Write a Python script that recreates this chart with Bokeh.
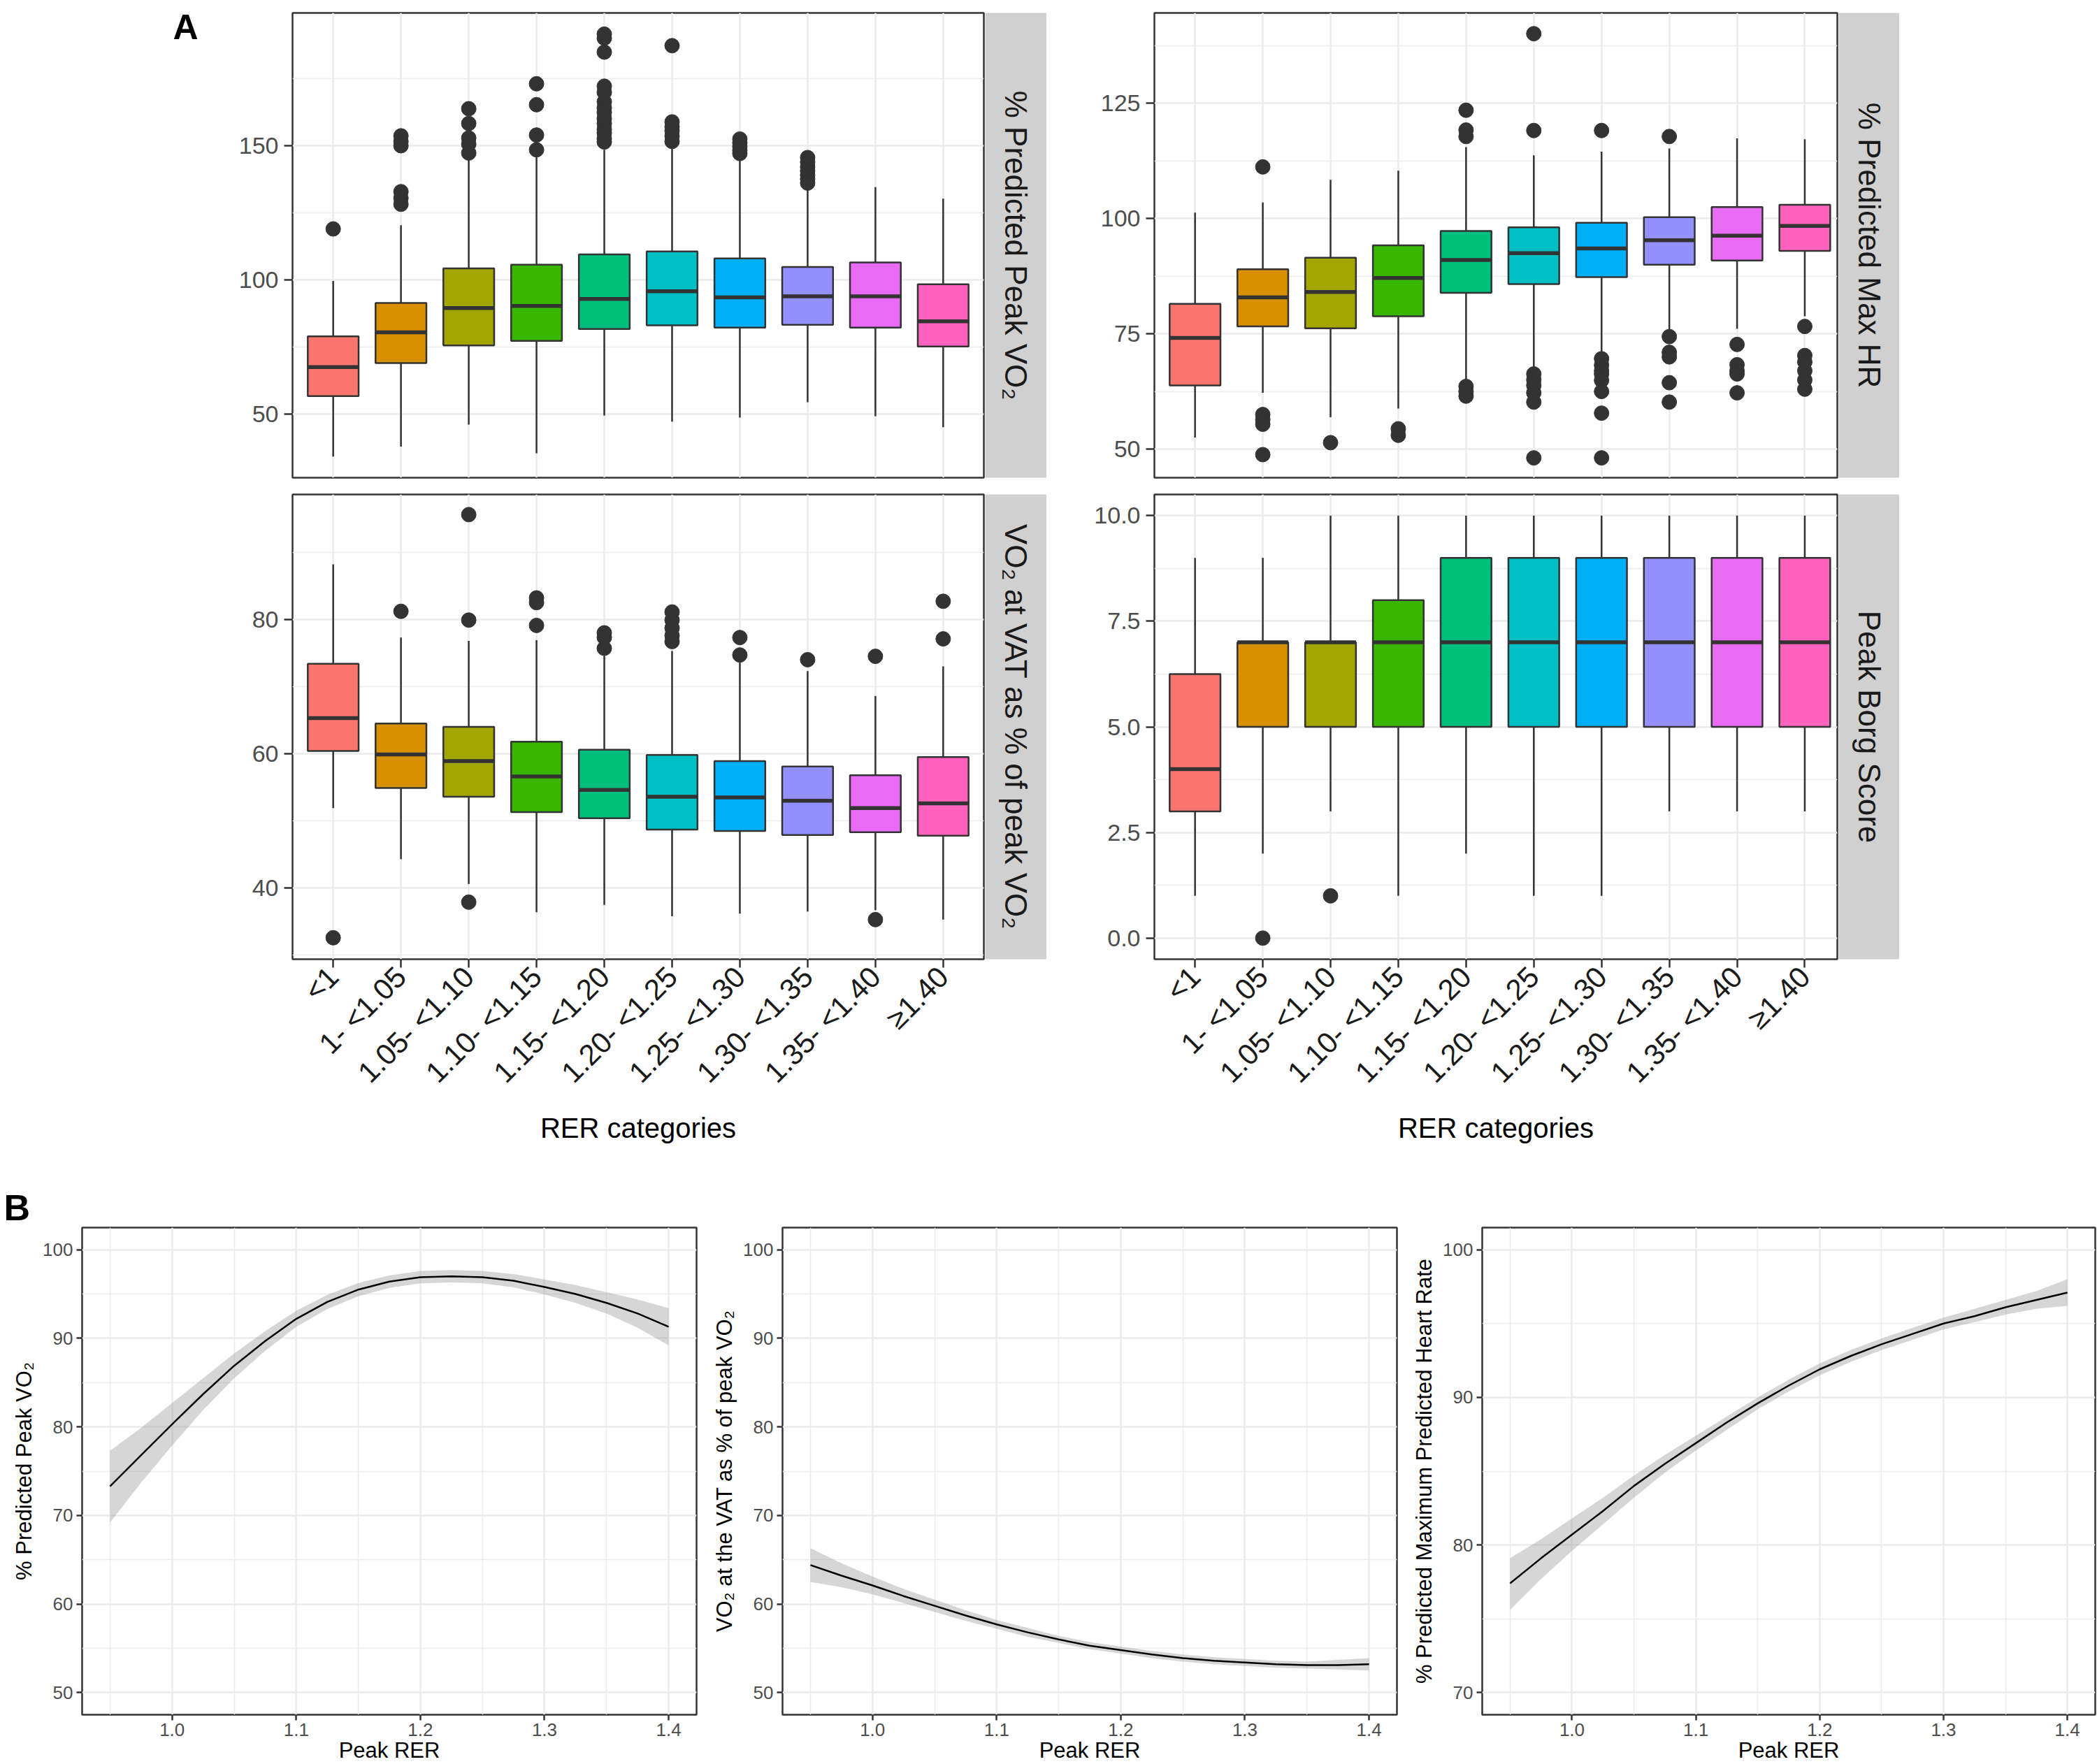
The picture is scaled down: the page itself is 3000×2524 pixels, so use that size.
import math
from bokeh.plotting import figure
from bokeh.layouts import column, row
from bokeh.models import FixedTicker, PrintfTickFormatter, Title
from bokeh.core.properties import value
from bokeh.embed import file_html
from bokeh.resources import INLINE

FONT = "Liberation Sans"

# ---------------- data: panel A (boxplots by RER category) ----------------
categories = ["<1", "1- <1.05", "1.05- <1.10", "1.10- <1.15", "1.15- <1.20",
              "1.20- <1.25", "1.25- <1.30", "1.30- <1.35", "1.35- <1.40", "\u22651.40"]
box_colors = ["#F8766D", "#D89000", "#A3A500", "#39B600", "#00BF7D",
              "#00BFC4", "#00B0F6", "#9590FF", "#E76BF3", "#FF62BC"]

# % Predicted Peak VO2
vo2_lw = [34.1, 37.8, 46.0, 35.3, 49.4, 47.1, 48.6, 54.3, 49.1, 45.0]
vo2_q1 = [56.6, 68.9, 75.5, 77.2, 81.6, 83.0, 82.1, 83.2, 82.1, 75.1]
vo2_med = [67.4, 80.4, 89.4, 90.2, 92.8, 95.7, 93.4, 93.8, 93.8, 84.5]
vo2_q3 = [78.9, 91.3, 104.2, 105.6, 109.4, 110.5, 107.9, 104.7, 106.4, 98.3]
vo2_uw = [99.5, 120.3, 144.9, 146.6, 148.4, 149.9, 145.5, 134.5, 134.5, 130.2]
vo2_out = [[118.9],
           [153.6, 151.5, 149.9, 132.8, 130.4, 128.1],
           [163.7, 158.2, 152.8, 150.5, 147.2],
           [173.0, 165.2, 153.9, 148.4],
           [191.5, 190.0, 184.8, 172.1, 169.8, 166.3, 164.0, 162.3, 160.0, 158.2, 156.0, 154.7, 152.5, 151.3],
           [187.2, 158.8, 157.0, 155.5, 153.5, 151.5],
           [152.4, 151.0, 149.6, 148.2, 147.0],
           [145.5, 143.8, 142.0, 140.5, 139.0, 137.5, 136.0],
           [],
           []]

# % Predicted Max HR
hr_lw = [52.5, 62.2, 56.9, 58.8, 64.2, 66.9, 70.3, 75.1, 76.1, 78.8]
hr_q1 = [63.8, 76.6, 76.2, 78.8, 83.9, 85.8, 87.3, 90.0, 90.9, 93.0]
hr_med = [74.1, 82.9, 84.1, 87.1, 91.0, 92.5, 93.5, 95.3, 96.3, 98.4]
hr_q3 = [81.5, 89.0, 91.5, 94.2, 97.3, 98.1, 99.1, 100.3, 102.5, 103.0]
hr_uw = [101.3, 103.5, 108.4, 110.4, 115.5, 113.7, 114.5, 115.2, 117.4, 117.2]
hr_out = [[],
          [111.2, 57.5, 56.4, 55.4, 48.8],
          [51.4],
          [54.4, 53.0],
          [123.5, 119.2, 117.8, 63.6, 62.5, 61.5],
          [140.1, 119.1, 66.3, 65.0, 63.8, 62.2, 60.2, 48.1],
          [119.1, 69.6, 68.2, 67.0, 66.3, 64.9, 62.5, 57.8, 48.1],
          [117.8, 74.4, 71.0, 70.0, 64.4, 60.2],
          [72.7, 68.3, 67.0, 66.3, 62.2],
          [76.6, 70.3, 68.9, 67.0, 65.0, 63.0]]

# VO2 at VAT as % of peak VO2
vat_lw = [51.9, 44.3, 40.6, 36.4, 37.5, 35.8, 36.2, 36.5, 36.7, 35.3]
vat_q1 = [60.4, 54.9, 53.6, 51.3, 50.4, 48.7, 48.5, 47.9, 48.3, 47.8]
vat_med = [65.3, 59.9, 58.9, 56.6, 54.6, 53.6, 53.5, 53.0, 51.9, 52.6]
vat_q3 = [73.4, 64.5, 64.0, 61.8, 60.6, 59.8, 58.9, 58.1, 56.8, 59.5]
vat_uw = [88.2, 77.3, 76.8, 76.9, 74.6, 75.3, 73.6, 72.3, 68.6, 73.0]
vat_out = [[32.6], [81.2], [95.6, 79.9, 37.9], [83.2, 82.5, 79.1], [78.0, 77.3, 75.7],
           [81.1, 79.9, 78.7, 77.6, 76.7], [77.3, 74.7], [74.0], [74.5, 35.3], [82.7, 77.1]]

# Peak Borg Score
borg_lw = [1, 2, 3, 1, 2, 1, 1, 3, 3, 3]
borg_q1 = [3, 5, 5, 5, 5, 5, 5, 5, 5, 5]
borg_med = [4, 7, 7, 7, 7, 7, 7, 7, 7, 7]
borg_q3 = [6.25, 7, 7, 8, 9, 9, 9, 9, 9, 9]
borg_uw = [9, 9, 10, 10, 10, 10, 10, 10, 10, 10]
borg_out = [[], [0], [1], [], [], [], [], [], [], []]

# ---------------- data: panel B (smooth fits vs peak RER) ----------------
rer = [0.95, 0.975, 1.0, 1.025, 1.05, 1.075, 1.1, 1.125, 1.15, 1.175, 1.2,
       1.225, 1.25, 1.275, 1.3, 1.325, 1.35, 1.375, 1.4]
fit_vo2 = [73.3, 76.8, 80.3, 83.7, 86.9, 89.7, 92.2, 94.1, 95.5, 96.4, 96.9,
           97.0, 96.9, 96.5, 95.8, 95.0, 94.0, 92.8, 91.3]
lo_vo2 = [69.2, 73.7, 77.9, 81.9, 85.5, 88.6, 91.3, 93.3, 94.75, 95.7, 96.2,
          96.3, 96.2, 95.75, 94.95, 94.0, 92.8, 91.2, 89.2]
hi_vo2 = [77.3, 79.9, 82.7, 85.5, 88.3, 90.8, 93.1, 94.9, 96.25, 97.1, 97.6,
          97.7, 97.6, 97.25, 96.65, 96.0, 95.2, 94.4, 93.4]
fit_vat = [64.4, 63.2, 62.1, 60.9, 59.8, 58.7, 57.7, 56.8, 56.0, 55.3, 54.8,
           54.3, 53.9, 53.6, 53.4, 53.2, 53.1, 53.1, 53.2]
lo_vat = [62.5, 61.9, 61.1, 60.1, 59.1, 58.1, 57.2, 56.3, 55.6, 54.9, 54.4,
          53.9, 53.5, 53.2, 53.0, 52.8, 52.7, 52.6, 52.5]
hi_vat = [66.3, 64.6, 63.1, 61.7, 60.5, 59.3, 58.2, 57.3, 56.4, 55.7, 55.2,
          54.7, 54.3, 54.0, 53.8, 53.6, 53.5, 53.7, 53.9]
fit_hr = [77.4, 79.1, 80.7, 82.3, 84.0, 85.5, 86.9, 88.3, 89.6, 90.8, 91.9,
          92.8, 93.6, 94.3, 95.0, 95.5, 96.1, 96.6, 97.1]
lo_hr = [75.6, 77.7, 79.6, 81.4, 83.2, 84.9, 86.4, 87.8, 89.2, 90.4, 91.5,
         92.4, 93.2, 93.9, 94.6, 95.1, 95.6, 96.0, 96.2]
hi_hr = [79.1, 80.4, 81.8, 83.2, 84.7, 86.1, 87.4, 88.7, 90.0, 91.2, 92.3,
         93.2, 94.0, 94.7, 95.4, 96.0, 96.6, 97.2, 98.0]

# ---------------- styling helpers ----------------
DARK = "#333333"
GRID = "#EBEBEB"
BOX_W = 0.75
positions = [i + 1 for i in range(len(categories))]


def style_common(p):
    p.background_fill_color = "white"
    p.border_fill_color = "white"
    p.outline_line_color = DARK
    p.outline_line_width = 2.5
    p.xgrid.grid_line_color = GRID
    p.xgrid.grid_line_width = 2.5
    p.ygrid.grid_line_color = GRID
    p.ygrid.grid_line_width = 2.5
    p.ygrid.minor_grid_line_color = GRID
    p.ygrid.minor_grid_line_width = 1.4


def style_axis(ax, label_size, label_color, tick_len):
    ax.axis_line_color = None
    ax.major_tick_line_color = DARK
    ax.major_tick_line_width = 2.5
    ax.major_tick_out = tick_len
    ax.major_tick_in = 0
    ax.minor_tick_line_color = None
    ax.major_label_text_font = FONT
    ax.major_label_text_font_size = label_size
    ax.major_label_text_color = label_color


def box_panel(lw, q1, med, q3, uw, outl, y_rng, yticks, yminor, left_b, frame_w,
              top_b, frame_h, bottom_b, x_end, show_x, fmt=None):
    p = figure(width=left_b + frame_w + 2, height=top_b + frame_h + bottom_b,
               x_range=(0.4, x_end), y_range=y_rng, output_backend="svg",
               toolbar_location=None, x_axis_location="below" if show_x else None,
               min_border_left=left_b, min_border_right=2,
               min_border_top=top_b, min_border_bottom=bottom_b)
    style_common(p)
    xt = FixedTicker(ticks=positions, minor_ticks=[])
    yt = FixedTicker(ticks=yticks, minor_ticks=yminor)
    p.xgrid.ticker = xt
    p.yaxis.ticker = yt
    p.ygrid.ticker = yt
    style_axis(p.yaxis[0], "34px", "#4D4D4D", 12)
    p.yaxis.major_label_standoff = 8
    if fmt:
        p.yaxis.formatter = PrintfTickFormatter(format=fmt)
    if show_x:
        ax = p.xaxis[0]
        ax.ticker = xt
        style_axis(ax, "42px", "#1A1A1A", 12)
        ax.major_label_overrides = {pos: c for pos, c in zip(positions, categories)}
        ax.major_label_orientation = math.pi / 4
        ax.major_label_standoff = 6
        ax.axis_label = "RER categories"
        ax.axis_label_text_font = FONT
        ax.axis_label_text_font_size = "40px"
        ax.axis_label_text_font_style = "normal"
        ax.axis_label_text_color = "black"
        ax.axis_label_standoff = 14

    half = BOX_W / 2
    p.segment(x0=positions, y0=q3, x1=positions, y1=uw, line_color=DARK, line_width=2.5)
    p.segment(x0=positions, y0=q1, x1=positions, y1=lw, line_color=DARK, line_width=2.5)
    p.vbar(x=positions, width=BOX_W, top=q3, bottom=q1, fill_color=box_colors,
           line_color=DARK, line_width=2.5)
    p.segment(x0=[x - half for x in positions], y0=med, x1=[x + half for x in positions],
              y1=med, line_color=DARK, line_width=5.5)
    ox, oy = [], []
    for pos, vals in zip(positions, outl):
        ox += [pos] * len(vals)
        oy += vals
    p.scatter(ox, oy, size=21, fill_color=DARK, line_color=DARK)
    return p


def strip(text, width, top_b, frame_h, bottom_b):
    s = figure(width=width, height=top_b + frame_h + bottom_b, x_range=(0, 1), y_range=(0, 1),
               output_backend="svg", toolbar_location=None, x_axis_location=None,
               y_axis_location=None, min_border_left=0, min_border_right=0,
               min_border_top=top_b, min_border_bottom=bottom_b)
    s.grid.visible = False
    s.background_fill_color = "#D0D0D0"
    s.border_fill_color = "white"
    s.outline_line_color = None
    s.text(x=[0.5], y=[0.5], text=[text], angle=-math.pi / 2, text_font=value(FONT),
           text_font_size="44px", text_align="center", text_baseline="middle",
           text_color="#1A1A1A")
    return s


def letter_fig(letter, width, height, lx, ly, size):
    # blank figure holding a panel letter, in pixel-like coordinates
    f = figure(width=width, height=height, x_range=(0, width), y_range=(height, 0),
               output_backend="svg", toolbar_location=None, x_axis_location=None,
               y_axis_location=None, min_border=0)
    try:
        f.frame_align = False
    except Exception:
        pass
    f.title.visible = False
    f.grid.visible = False
    f.outline_line_color = None
    f.background_fill_color = "white"
    f.border_fill_color = "white"
    f.text(x=[lx], y=[ly], text=[letter], text_font=value(FONT), text_font_size=size,
           text_font_style="bold", text_align="center", text_baseline="alphabetic",
           text_color="black")
    return f


def curve_panel(fit, lo, hi, ylabel, y_rng, yticks, yminor, left_b, frame_w, top_b,
                frame_h, bottom_b):
    p = figure(width=left_b + frame_w + 2, height=top_b + frame_h + bottom_b,
               x_range=(0.9275, 1.4225), y_range=y_rng, output_backend="svg",
               toolbar_location=None, min_border_left=left_b, min_border_right=2,
               min_border_top=top_b, min_border_bottom=bottom_b)
    style_common(p)
    p.xgrid.minor_grid_line_color = GRID
    p.xgrid.minor_grid_line_width = 1.4
    xt = FixedTicker(ticks=[1.0, 1.1, 1.2, 1.3, 1.4],
                     minor_ticks=[0.95, 1.05, 1.15, 1.25, 1.35])
    yt = FixedTicker(ticks=yticks, minor_ticks=yminor)
    p.xaxis.ticker = xt
    p.xgrid.ticker = xt
    p.yaxis.ticker = yt
    p.ygrid.ticker = yt
    p.xaxis.formatter = PrintfTickFormatter(format="%.1f")
    for ax in (p.xaxis[0], p.yaxis[0]):
        style_axis(ax, "26px", "#4D4D4D", 8)
        ax.major_label_standoff = 5
        ax.axis_label_text_font = FONT
        ax.axis_label_text_font_size = "31px"
        ax.axis_label_text_font_style = "normal"
        ax.axis_label_text_color = "black"
    p.xaxis.major_label_standoff = 4
    p.xaxis.axis_label = "Peak RER"
    p.xaxis.axis_label_standoff = 0
    p.yaxis.axis_label = ylabel
    p.yaxis.axis_label_standoff = 6
    p.varea(x=rer, y1=lo, y2=hi, fill_color="#999999", fill_alpha=0.4)
    p.line(rer, fit, line_color="black", line_width=2.5)
    return p


# ---------------- build panels (page pixel layout) ----------------
FH_A = 665
A1_TOP, A1_BOT = 18, 14          # row 1: 0 .. 697
A2_TOP, A2_BOT = 10, 281         # row 2: 697 .. 1653

a_fig = letter_fig("A", 300, A1_TOP + FH_A + A1_BOT, 265, 38, "50px")
tl = box_panel(vo2_lw, vo2_q1, vo2_med, vo2_q3, vo2_uw, vo2_out, (26.2, 199.4),
               [50, 100, 150], [75, 125, 175], 118, 989, A1_TOP, FH_A, A1_BOT, 10.6, False)
tr = box_panel(hr_lw, hr_q1, hr_med, hr_q3, hr_uw, hr_out, (43.8, 144.6),
               [50, 75, 100, 125], [62.5, 87.5, 112.5, 137.5], 154, 977,
               A1_TOP, FH_A, A1_BOT, 10.48, False)
bl = box_panel(vat_lw, vat_q1, vat_med, vat_q3, vat_uw, vat_out, (29.4, 98.6),
               [40, 60, 80], [30, 50, 70, 90], 418, 989, A2_TOP, FH_A, A2_BOT, 10.6, True)
br = box_panel(borg_lw, borg_q1, borg_med, borg_q3, borg_uw, borg_out, (-0.5, 10.5),
               [0, 2.5, 5, 7.5, 10], [1.25, 3.75, 6.25, 8.75], 154, 977,
               A2_TOP, FH_A, A2_BOT, 10.48, True, fmt="%.1f")

s_tl = strip("% Predicted Peak VO\u2082", 88, A1_TOP, FH_A, A1_BOT)
s_tr = strip("% Predicted Max HR", 87, A1_TOP, FH_A, A1_BOT)
s_bl = strip("VO\u2082 at VAT as % of peak VO\u2082", 88, A2_TOP, FH_A, A2_BOT)
s_br = strip("Peak Borg Score", 87, A2_TOP, FH_A, A2_BOT)

FH_B = 697
B_TOP, B_BOT = 103, 71           # row 3: 1653 .. 2524
b1 = curve_panel(fit_vo2, lo_vo2, hi_vo2, "% Predicted Peak VO\u2082", (47.5, 102.5),
                 [50, 60, 70, 80, 90, 100], [55, 65, 75, 85, 95], 117, 879, B_TOP, FH_B, B_BOT)
b2 = curve_panel(fit_vat, lo_vat, hi_vat, "VO\u2082 at the VAT as % of peak VO\u2082", (47.5, 102.5),
                 [50, 60, 70, 80, 90, 100], [55, 65, 75, 85, 95], 121, 879, B_TOP, FH_B, B_BOT)
b3 = curve_panel(fit_hr, lo_hr, hi_hr, "% Predicted Maximum Predicted Heart Rate", (68.5, 101.5),
                 [70, 80, 90, 100], [75, 85, 95], 120, 877, B_TOP, FH_B, B_BOT)
b1.title = Title(text="B", align="left", offset=-112, standoff=0, text_font=FONT,
                 text_font_size="52px", text_font_style="bold", text_color="black")

layout = column(row(a_fig, tl, s_tl, tr, s_tr),
                row(bl, s_bl, br, s_br),
                row(b1, b2, b3))

open("out.html", "w").write(file_html(layout, INLINE))
